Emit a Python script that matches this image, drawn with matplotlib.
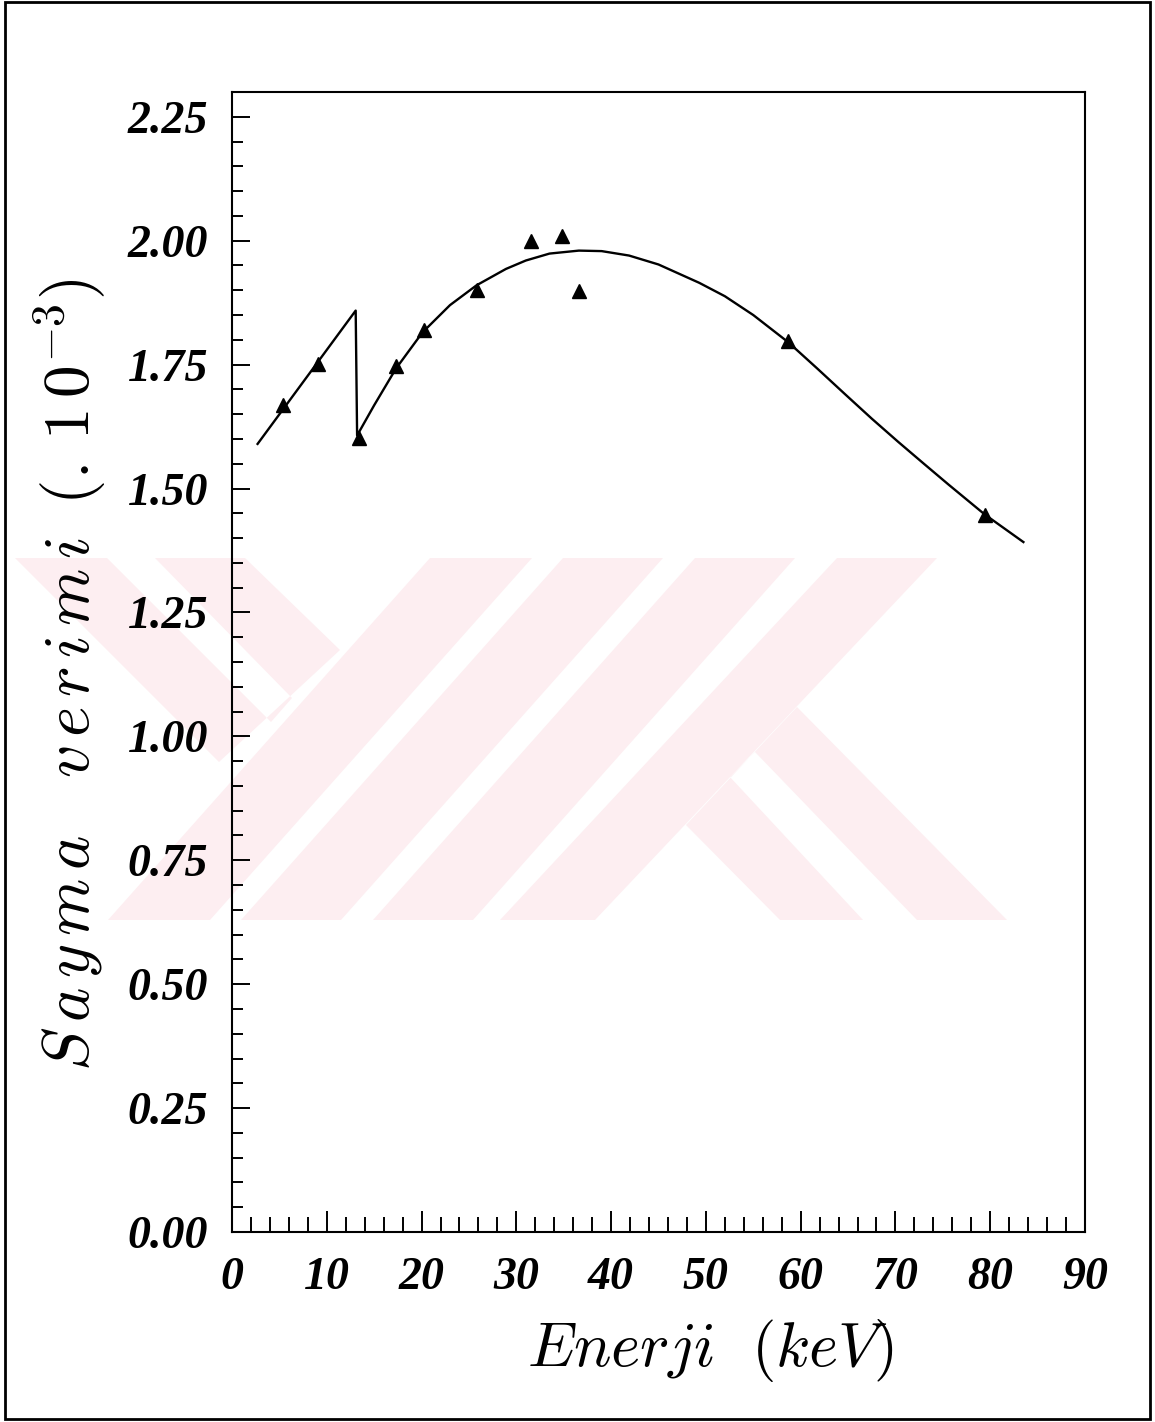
import matplotlib
matplotlib.use("Agg")
import matplotlib.pyplot as plt
import numpy as np
from matplotlib.patches import Polygon, Rectangle
from matplotlib.ticker import MultipleLocator, FormatStrFormatter

plt.rcParams['mathtext.fontset'] = 'cm'

# measured points (triangles)
enerji = [5.4, 9.1, 13.4, 17.3, 20.3, 25.8, 31.5, 34.8, 36.6, 58.7, 79.4]
verim = [1.668, 1.751, 1.602, 1.748, 1.819, 1.900, 2.000, 2.010, 1.899, 1.798, 1.446]

# fitted curve (saw-tooth at the K edge, then smooth)
fit_x = [2.7, 13.05, 13.2, 15.0, 17.3, 20.1, 23.0, 25.8, 28.9, 31.0, 33.5, 36.6, 39.0,
         41.9, 45.0, 49.3, 52.0, 55.0, 58.7, 61.7, 64.7, 67.5, 70.3, 73.0, 75.6, 79.4, 83.5]
fit_y = [1.590, 1.859, 1.607, 1.668, 1.742, 1.815, 1.870, 1.910, 1.943, 1.960, 1.974, 1.980, 1.979,
         1.970, 1.952, 1.915, 1.888, 1.850, 1.795, 1.743, 1.690, 1.641, 1.594, 1.550, 1.508, 1.448, 1.392]

W, H = 1155, 1422
fig = plt.figure(figsize=(W / 100, H / 100), dpi=100)

# faint pink watermark in the background (pixel outlines of the logo)
pink = '#fdeef1'
shapes = [
    [(15, 558), (107, 558), (271, 722), (292, 698), (155, 558), (245, 558), (340, 650), (219, 762)],
    [(430, 558), (532, 558), (210, 920), (108, 920)],
    [(563, 558), (663, 558), (341, 920), (241, 920)],
    [(695, 558), (795, 558), (473, 920), (373, 920)],
    [(837, 558), (937, 558), (595, 920), (500, 920)],
    [(797, 707), (1007, 920), (917, 920), (755, 752), (730, 777), (863, 920), (780, 920), (686, 825)],
]
for s in shapes:
    pts = [(x / W, 1 - y / H) for x, y in s]
    fig.patches.append(Polygon(pts, closed=True, facecolor=pink, edgecolor='none',
                               transform=fig.transFigure, zorder=-5))

# outer frame
fig.patches.append(Rectangle((5 / W, 1 - 1419 / H), 1145 / W, 1417 / H, fill=False,
                             edgecolor='black', linewidth=2, transform=fig.transFigure))

ax = fig.add_axes([232 / W, 1 - 1232 / H, (1085 - 232) / W, (1232 - 92) / H])
ax.set_facecolor('none')

ax.plot(fit_x, fit_y, color='black', linewidth=1.7)
ax.plot(enerji, verim, linestyle='none', marker='^', markersize=10, color='black')

ax.set_xlim(0, 90)
ax.set_ylim(0, 2.3)
ax.xaxis.set_major_locator(MultipleLocator(10))
ax.xaxis.set_minor_locator(MultipleLocator(2))
ax.yaxis.set_major_locator(MultipleLocator(0.25))
ax.yaxis.set_minor_locator(MultipleLocator(0.05))
ax.yaxis.set_major_formatter(FormatStrFormatter('%.2f'))
ax.xaxis.set_major_formatter(FormatStrFormatter('%d'))

ax.tick_params(which='both', direction='in', top=False, right=False, width=1.4)
ax.tick_params(axis='y', which='major', length=13, pad=17)
ax.tick_params(axis='y', which='minor', length=8)
ax.tick_params(axis='x', which='major', length=15, pad=18)
ax.tick_params(axis='x', which='minor', length=11)
for lab in ax.get_xticklabels() + ax.get_yticklabels():
    lab.set_fontfamily('Liberation Serif')
    lab.set_fontstyle('italic')
    lab.set_fontweight('bold')
    lab.set_fontsize(33)
for sp in ax.spines.values():
    sp.set_linewidth(1.5)

fig.text(70 / W, 1 - 675 / H, r'$S\,a\,y\,m\,a\quad v\,e\,r\,i\,m\,i\;\;(.\,1\,0^{-3})$',
         rotation=90, ha='center', va='center', fontsize=47)
fig.text(711 / W, 1 - 1350 / H, r'$Enerji\ \ (keV)$', ha='center', va='center', fontsize=45)

fig.savefig('out.png', dpi=100)
